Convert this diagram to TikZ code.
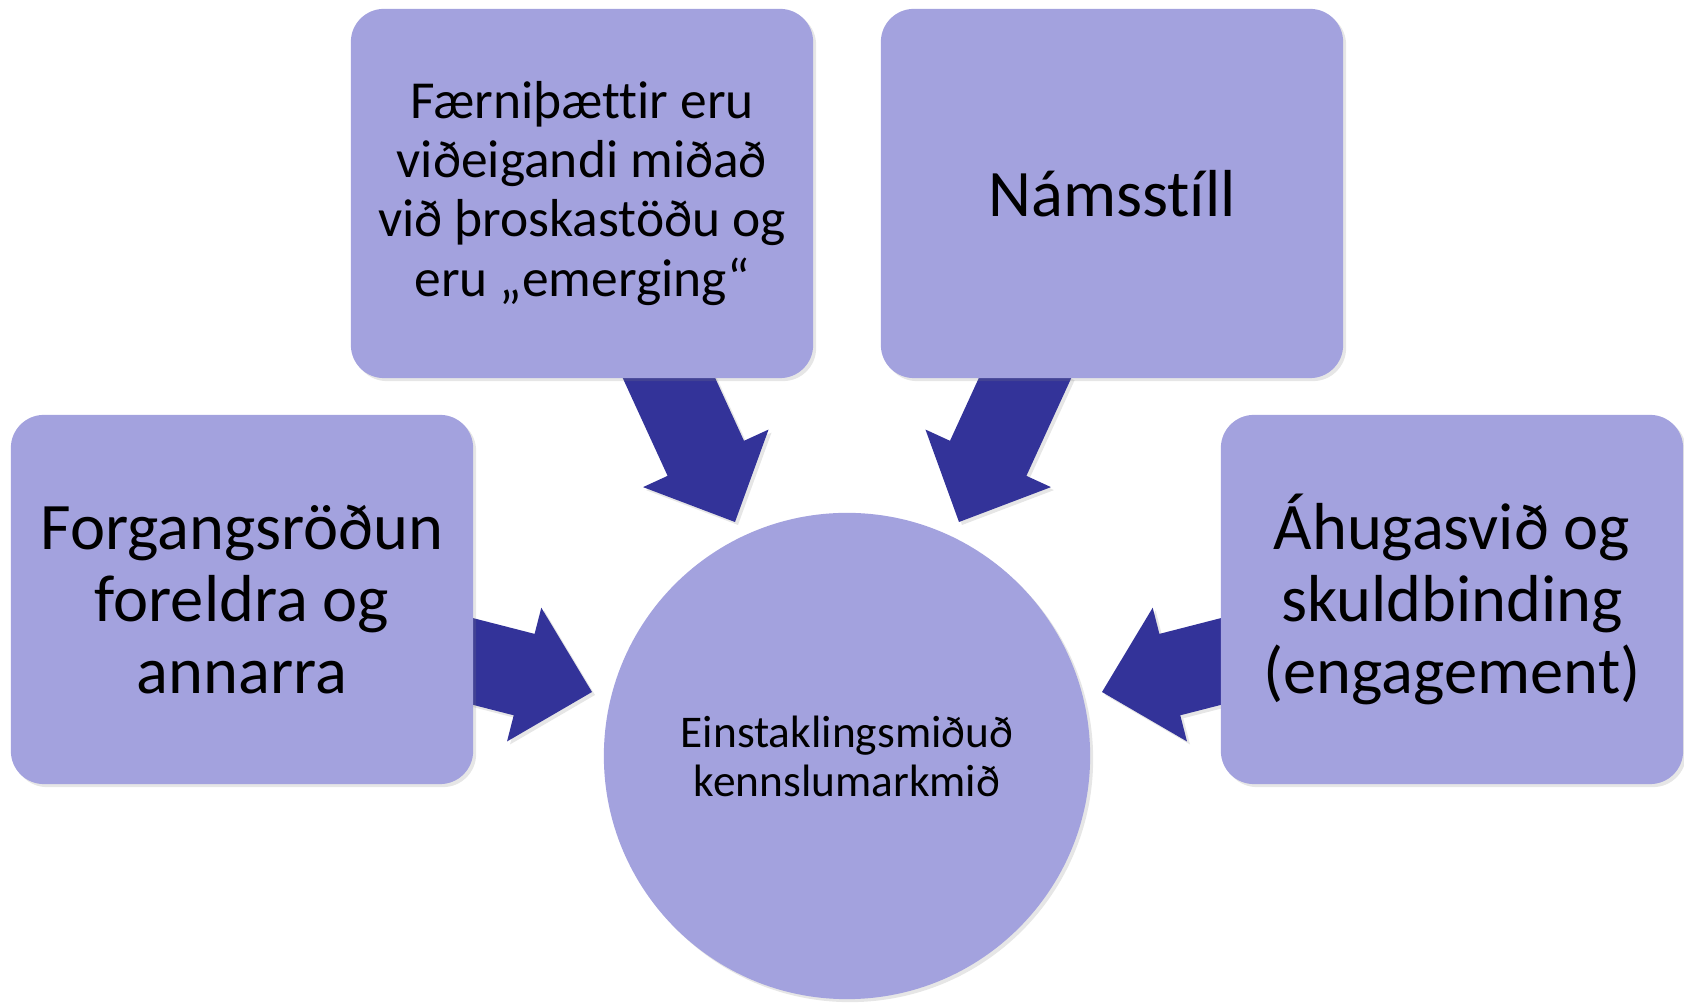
\documentclass[tikz,border=0pt]{standalone}
\usepackage{fontspec}
\setmainfont{Carlito}[Ligatures=CommonOff]
\usetikzlibrary{calc,shadows}
\definecolor{boxfill}{HTML}{A3A2DE}
\definecolor{arrowfill}{HTML}{333399}
\tikzset{
  soft shadow/.style={drop shadow={shadow xshift=.03cm, shadow yshift=-.03cm, opacity=.2}},
  box/.style={fill=boxfill, rounded corners=.33cm, minimum width=4.62cm, minimum height=3.69cm, soft shadow},
  goal/.style={fill=boxfill, circle, minimum size=4.86cm, soft shadow},
  big/.style={font=\fontsize{18.9}{20.5}\selectfont},
  mid/.style={font=\fontsize{15.2}{16.8}\selectfont},
  small/.style={font=\fontsize{12.9}{13.9}\selectfont}
}
\begin{document}
\begin{tikzpicture}[x=0.01cm, y=-0.01cm, every node/.style={align=center, inner sep=0pt}]
  \useasboundingbox (0,0) rectangle (1684,1004);
  % ends of the block arrows
  \coordinate (t1) at (660.6,359.8);
  \coordinate (p1) at (735,522);
  \coordinate (t2) at (1033.4,359.8);
  \coordinate (p2) at (959,522);
  \coordinate (t3) at (453.6,656.5);
  \coordinate (p3) at (592,692);
  \coordinate (t4) at (1240.4,656.5);
  \coordinate (p4) at (1102,692);
  \foreach \t/\p in {t1/p1,t2/p2,t3/p3,t4/p4} {
    \coordinate (b) at ($(\p)!.70cm!(\t)$);
    \fill [arrowfill, soft shadow] ($(\t)!.42cm!90:(\p)$) -- ($(b)!.42cm!-90:(\t)$)
      -- ($(b)!.69cm!-90:(\t)$) -- (\p) -- ($(b)!.69cm!90:(\t)$)
      -- ($(b)!.42cm!90:(\t)$) -- ($(\t)!.42cm!-90:(\p)$) -- cycle;
  }
  \node [box, mid] (skills) at (582,193.5) {Færniþættir eru\\viðeigandi miðað\\við þroskastöðu og\\eru „emerging“};
  \node [box, big] (style) at (1112,193.5) {Námsstíll};
  \node [box, big] (parents) at (242,599.5) {Forgangsröðun\\foreldra og\\annarra};
  \node [box, big] (interest) at (1452,599.5) {Áhugasvið og\\skuldbinding\\(engagement)};
  \node [goal, small] (goal) at (847,756) {Einstaklingsmiðuð\\kennslumarkmið};
\end{tikzpicture}
\end{document}
